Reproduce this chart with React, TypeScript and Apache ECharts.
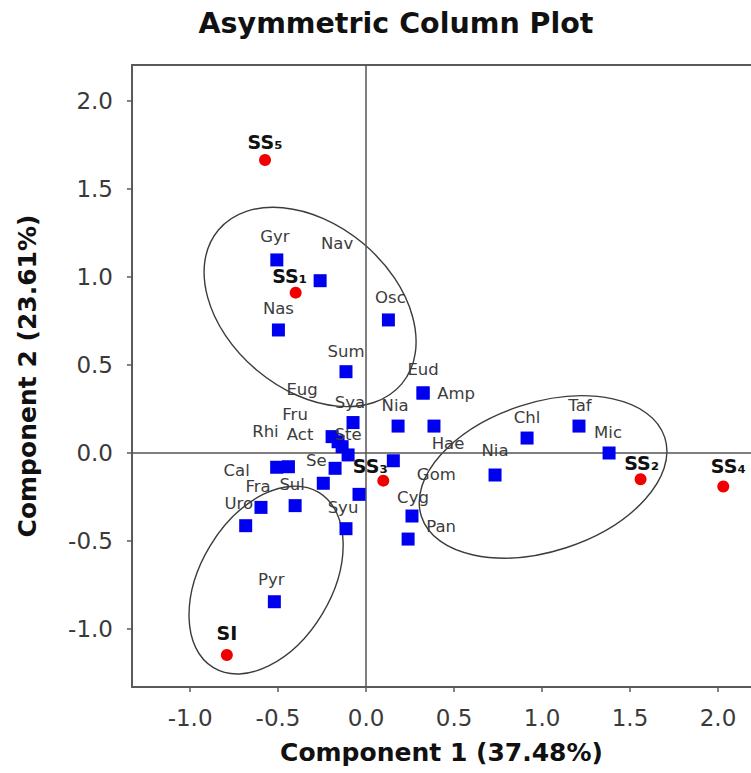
import React, { useEffect, useRef } from "react";
import * as echarts from "echarts";

// Tick values
const X_TICKS = [-1.0, -0.5, 0.0, 0.5, 1.0, 1.5, 2.0];
const Y_TICKS = [-1.0, -0.5, 0.0, 0.5, 1.0, 1.5, 2.0];

// Taxa (blue squares)
const TAXA_NAMES = [
  "Gyr", "Nav", "Nas", "Osc", "Sum", "Eud", "Amp", "Nia", "Hae", "Chl",
  "Taf", "Mic", "Nia", "Gom", "Cyg", "Pan", "Syu", "Uro", "Fra", "Sul",
  "Cal", "Rhi", "Act", "Fru", "Eug", "Ste", "Se", "Sya", "Pyr", "", "",
];
const TAXA_X = [
  -0.507, -0.261, -0.498, 0.127, -0.114, 0.324, 0.324, 0.182, 0.386, 0.915,
  1.21, 1.381, 0.733, 0.155, 0.261, 0.239, -0.114, -0.684, -0.597, -0.403,
  -0.508, -0.441, -0.193, -0.159, -0.136, -0.102, -0.243, -0.074, -0.521, -0.176, -0.04,
];
const TAXA_Y = [
  1.097, 0.979, 0.699, 0.756, 0.462, 0.341, 0.341, 0.153, 0.153, 0.085,
  0.153, 0.0, -0.125, -0.044, -0.358, -0.489, -0.43, -0.413, -0.309, -0.299,
  -0.081, -0.078, 0.093, 0.064, 0.036, -0.011, -0.172, 0.173, -0.845, -0.087, -0.235,
];
// label placement (pixels, relative to marker)
const TAXA_LABEL_OFFSETS = [
  [-2, -23], [17, -37], [0, -21], [2, -22], [0, -20], [0, -23], [33, 1], [-3, -21], [14, 17], [0, -21],
  [1, -21], [-1, -21], [0, -25], [43, 14], [1, -19], [33, -13], [-3, -21], [-7, -22], [-3, -21], [-3, -21],
  [-40, 3], [-23, -35], [-32, -2], [-43, -27], [-40, -57], [0, -20], [-7, -23], [-3, -20], [-3, -22], [0, 0], [0, 0],
];

// Sites (red dots)
const SITE_NAMES = ["SS\u2085", "SS\u2081", "SS\u2083", "SS\u2082", "SS\u2084", "SI"];
const SITE_X = [-0.574, -0.4, 0.098, 1.56, 2.03, -0.791];
const SITE_Y = [1.665, 0.911, -0.157, -0.149, -0.19, -1.148];
const SITE_LABEL_OFFSETS = [[0, -18], [-6, -17], [-13, -15], [1, -16], [5, -20], [0, -22]];

// Ellipses: [centerX, centerY, semiAxisX, semiAxisY, rotationDeg]
const ELLIPSES = [
  [-0.318, 0.83, 0.68, 0.47, -40],
  [1.006, -0.136, 0.727, 0.423, 18],
  [-0.568, -0.722, 0.581, 0.373, 59],
];

const FONT = "'DejaVu Sans', Verdana, sans-serif";

export default function App() {
  const ref = useRef<HTMLDivElement>(null);
  useEffect(() => {
    if (!ref.current) return;
    const chart = echarts.init(ref.current, null, { renderer: "svg" });
    const xMin = -1.33, xMax = 2.1875, yMin = -1.3295, yMax = 2.2045;

    const taxaData = TAXA_NAMES.map((n, i) => ({
      value: [TAXA_X[i], TAXA_Y[i]],
      name: n,
      label: { offset: TAXA_LABEL_OFFSETS[i] },
    }));
    const siteData = SITE_NAMES.map((n, i) => ({
      value: [SITE_X[i], SITE_Y[i]],
      name: n,
      label: { offset: SITE_LABEL_OFFSETS[i] },
    }));

    const axisLineStyle = { color: "#5a5a5a", width: 2 };

    chart.setOption({
      animation: false,
      backgroundColor: "#ffffff",
      title: {
        text: "Asymmetric Column Plot",
        left: 391,
        top: 4,
        textAlign: "center",
        textStyle: { fontFamily: FONT, fontSize: 28.5, fontWeight: "bold", color: "#111" },
      },
      grid: { left: 132, right: 0, top: 65, bottom: 86, containLabel: false },
      xAxis: [
        {
          type: "value",
          min: xMin,
          max: xMax,
          position: "bottom",
          splitLine: { show: false },
          axisLine: { show: true, onZero: false, lineStyle: axisLineStyle },
          axisTick: { show: true, inside: false, length: 5, customValues: X_TICKS, lineStyle: { color: "#5a5a5a", width: 1.5 } },
          axisLabel: {
            customValues: X_TICKS,
            formatter: (v: number) => v.toFixed(1),
            fontFamily: FONT,
            fontSize: 23,
            color: "#3a3a3a",
            margin: 19,
          },
          name: "Component 1 (37.48%)",
          nameLocation: "middle",
          nameGap: 53,
          nameTextStyle: { fontFamily: FONT, fontSize: 25, fontWeight: "bold", color: "#111" },
        },
        {
          type: "value",
          min: xMin,
          max: xMax,
          position: "top",
          splitLine: { show: false },
          axisLine: { show: true, onZero: false, lineStyle: axisLineStyle },
          axisTick: { show: false },
          axisLabel: { show: false },
        },
      ],
      yAxis: {
        type: "value",
        min: yMin,
        max: yMax,
        splitLine: { show: false },
        axisLine: { show: true, onZero: false, lineStyle: axisLineStyle },
        axisTick: { show: true, inside: false, length: 5, customValues: Y_TICKS, lineStyle: { color: "#5a5a5a", width: 1.5 } },
        axisLabel: {
          customValues: Y_TICKS,
          formatter: (v: number) => v.toFixed(1),
          fontFamily: FONT,
          fontSize: 23,
          color: "#3a3a3a",
          margin: 19,
        },
        name: "Component 2 (23.61%)",
        nameLocation: "middle",
        nameGap: 92,
        nameTextStyle: { fontFamily: FONT, fontSize: 25, fontWeight: "bold", color: "#111" },
      },
      series: [
        {
          type: "custom",
          silent: true,
          xAxisIndex: 0,
          yAxisIndex: 0,
          encode: { x: 0, y: 1 },
          data: ELLIPSES,
          z: 1,
          renderItem: (params: any, api: any) => {
            const c = api.coord([api.value(0), api.value(1)]);
            const s = api.size([api.value(2), api.value(3)]);
            return {
              type: "ellipse",
              x: c[0],
              y: c[1],
              rotation: (api.value(4) * Math.PI) / 180,
              shape: { cx: 0, cy: 0, rx: s[0], ry: s[1] },
              style: { fill: "none", stroke: "#3c3c3c", lineWidth: 1.4 },
            };
          },
        },
        {
          type: "scatter",
          name: "Taxa",
          xAxisIndex: 0,
          yAxisIndex: 0,
          symbol: "rect",
          symbolSize: 13,
          z: 3,
          itemStyle: { color: "#0000f0", opacity: 1 },
          label: {
            show: true,
            position: "inside",
            formatter: "{b}",
            fontFamily: FONT,
            fontSize: 16.5,
            color: "#3c3c3c",
            align: "center",
            verticalAlign: "middle",
          },
          data: taxaData,
          markLine: {
            silent: true,
            symbol: ["none", "none"],
            label: { show: false },
            lineStyle: { color: "#555", width: 1.5, type: "solid" },
            data: [{ xAxis: 0 }, { yAxis: 0 }],
            z: 2,
          },
        },
        {
          type: "scatter",
          name: "Sites",
          xAxisIndex: 0,
          yAxisIndex: 0,
          symbol: "circle",
          symbolSize: 12,
          z: 4,
          itemStyle: { color: "#f20000", opacity: 1 },
          label: {
            show: true,
            position: "inside",
            formatter: "{b}",
            fontFamily: FONT,
            fontSize: 19,
            fontWeight: "bold",
            color: "#111",
            align: "center",
            verticalAlign: "middle",
          },
          data: siteData,
        },
      ],
    });
    return () => chart.dispose();
  }, []);
  return (
    <div
      ref={ref}
      style={{ position: "absolute", left: 0, top: 0, width: 751, height: 773, background: "#fff" }}
    />
  );
}
